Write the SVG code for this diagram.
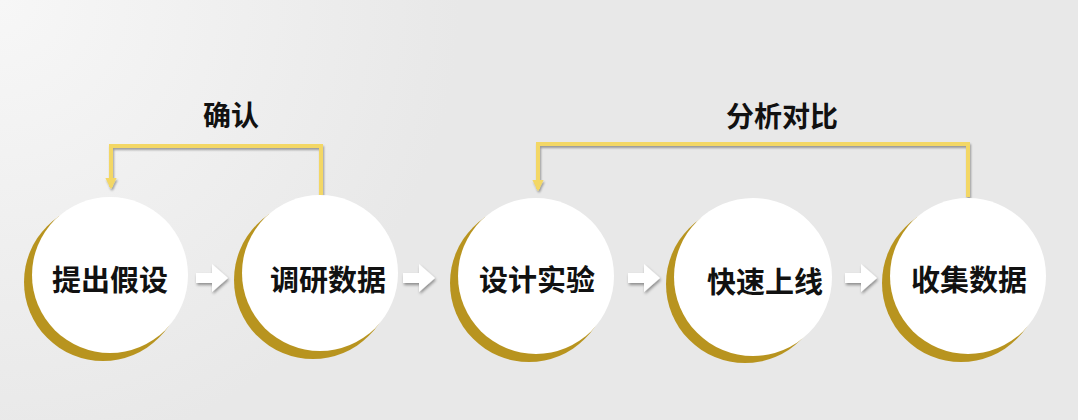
<svg xmlns="http://www.w3.org/2000/svg" width="1080" height="420" viewBox="0 0 1080 420">
<defs>
<radialGradient id="bg" gradientUnits="userSpaceOnUse" cx="0" cy="0" r="460">
<stop offset="0" stop-color="#f7f7f7"/>
<stop offset="1" stop-color="#e8e8e8"/>
</radialGradient>
<filter id="sh" x="-20%" y="-20%" width="140%" height="160%">
<feGaussianBlur in="SourceAlpha" stdDeviation="1.2"/>
<feOffset dx="1" dy="2" result="b"/>
<feComponentTransfer><feFuncA type="linear" slope="0.35"/></feComponentTransfer>
<feMerge><feMergeNode/><feMergeNode in="SourceGraphic"/></feMerge>
</filter>
<filter id="ash" x="-30%" y="-30%" width="160%" height="170%">
<feGaussianBlur in="SourceAlpha" stdDeviation="1.5"/>
<feOffset dx="1" dy="2" result="b"/>
<feComponentTransfer><feFuncA type="linear" slope="0.4"/></feComponentTransfer>
<feMerge><feMergeNode/><feMergeNode in="SourceGraphic"/></feMerge>
</filter>
<marker id="ah" viewBox="0 0 10 10" refX="8" refY="5" markerWidth="2.8" markerHeight="2.8" orient="auto" markerUnits="strokeWidth">
<path d="M0,0 L10,5 L0,10 Z" fill="#f3d765"/>
</marker>
<path id="blk" d="M0,-5 L16,-5 L16,-14 L32,0 L16,14 L16,5 L0,5 Z"/>
</defs>
<style>
.gold{fill:#b8941f}
.wc{fill:#ffffff}
.lbl{font-family:"Noto Sans CJK SC","Noto Sans",sans-serif;font-weight:bold;font-size:28px;fill:#111111;text-anchor:middle}
.nl{font-size:29px}
.fb{fill:none;stroke:#f3d765;stroke-width:4;stroke-linejoin:miter}
.blk{fill:#ffffff}
</style>
<rect width="1080" height="420" fill="url(#bg)"/>
<rect x="1078" y="0" width="2" height="420" fill="#ffffff"/>

<g id="connectors">
<g filter="url(#sh)">
<path class="fb" d="M321,195 L321,146 L111,146 L111,187" marker-end="url(#ah)"/>
<path class="fb" d="M968,197 L968,144 L538,144 L538,189" marker-end="url(#ah)"/>
</g>
<g filter="url(#ash)">
<use href="#blk" class="blk" x="196" y="278"/>
<use href="#blk" class="blk" x="403" y="278"/>
<use href="#blk" class="blk" x="628" y="278"/>
<use href="#blk" class="blk" x="845" y="278"/>
</g>
<text class="lbl" x="231" y="126">确认</text>
<text class="lbl" x="782" y="127">分析对比</text>
</g>

<g id="n1">
<circle class="gold" cx="103" cy="282" r="79"/>
<circle class="wc" cx="110" cy="275" r="78"/>
<text class="lbl nl" x="110" y="291">提出假设</text>
</g>
<g id="n2">
<circle class="gold" cx="313" cy="280" r="79"/>
<circle class="wc" cx="320" cy="273" r="78"/>
<text class="lbl nl" x="328" y="291">调研数据</text>
</g>
<g id="n3">
<circle class="gold" cx="529" cy="283" r="79"/>
<circle class="wc" cx="536" cy="276" r="78"/>
<text class="lbl nl" x="537" y="291">设计实验</text>
</g>
<g id="n4">
<circle class="gold" cx="745" cy="284" r="79"/>
<circle class="wc" cx="753" cy="277" r="79"/>
<text class="lbl nl" x="765" y="293">快速上线</text>
</g>
<g id="n5">
<circle class="gold" cx="961" cy="283" r="79"/>
<circle class="wc" cx="968" cy="276" r="78"/>
<text class="lbl nl" x="969" y="291">收集数据</text>
</g>
</svg>
